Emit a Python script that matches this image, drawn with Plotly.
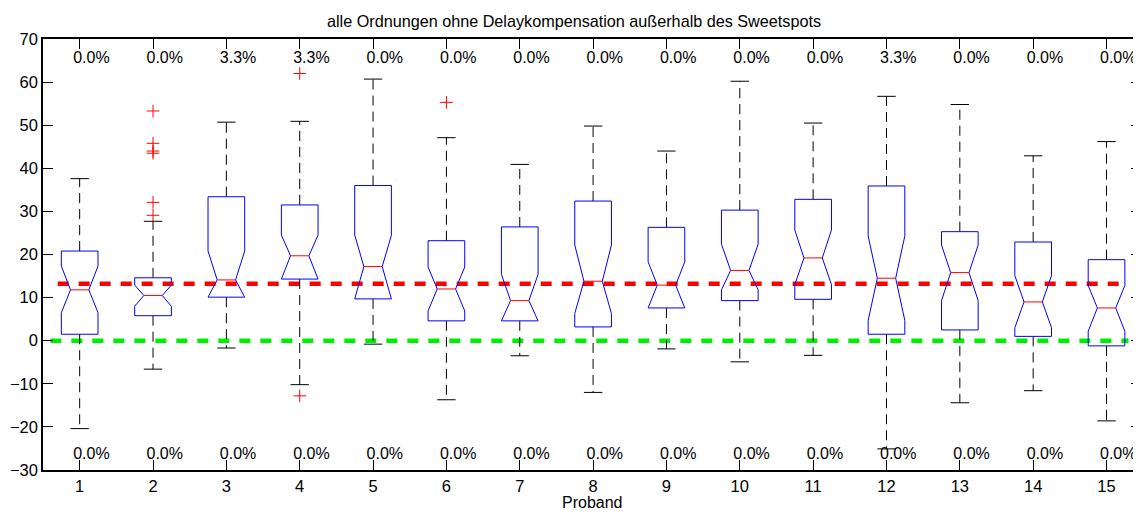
import plotly.graph_objects as go

# ---------------- data ----------------
probands = list(range(1, 16))
q1 = [1.5, 5.8, 10.1, 14.3, 9.7, 4.6, 4.6, 3.2, 7.6, 9.3, 9.6, 1.5, 2.5, 1.0, -1.2]
med = [11.8, 10.5, 14.1, 19.7, 17.2, 12.0, 9.3, 13.8, 12.9, 16.3, 19.2, 14.5, 15.8, 9.0, 7.6]
q3 = [20.8, 14.6, 33.4, 31.5, 36.0, 23.2, 26.4, 32.4, 26.3, 30.3, 32.8, 35.9, 25.3, 22.9, 18.8]
notch_lo = [6.5, 8.0, 10.1, 14.3, 9.7, 6.9, 4.6, 6.3, 7.6, 11.8, 13.0, 4.7, 9.3, 3.0, 2.2]
notch_hi = [17.3, 12.9, 20.8, 24.5, 24.5, 17.1, 15.4, 22.2, 18.3, 22.4, 25.7, 24.3, 22.2, 15.1, 12.8]
whisk_lo = [-20.4, -6.6, -1.7, -10.2, -0.8, -13.7, -3.5, -12.0, -1.9, -4.9, -3.4, -25.1, -14.4, -11.6, -18.6]
whisk_hi = [37.6, 27.7, 50.7, 50.9, 60.7, 47.1, 40.9, 49.8, 44.0, 60.2, 50.5, 56.7, 54.8, 42.9, 46.2]
outlier_x = [2, 2, 2, 2, 2, 2, 4, 4, 6]
outlier_y = [53.3, 45.8, 44.0, 43.5, 32.1, 29.1, 62.0, -12.8, 55.3]
pct_top = ["0.0%", "0.0%", "3.3%", "3.3%", "0.0%", "0.0%", "0.0%", "0.0%", "0.0%",
           "0.0%", "0.0%", "3.3%", "0.0%", "0.0%", "0.0%"]
pct_bottom = ["0.0%"] * 15
overall_median = 13.2
reference_zero = 0.0

# ---------------- style ----------------
W = 0.25      # box half width
WN = 0.125    # notch half width
WC = 0.125    # whisker cap half width
PCT_DX = 0.16
PCT_TOP_Y = 65.4
PCT_BOT_Y = -26.6
FONT = "Liberation Sans, Arial, sans-serif"
FIG_W, FIG_H = 1133, 504   # page body adds an 8px margin

bx, by = [], []
mx, my = [], []
wx, wy = [], []
cx, cy = [], []
for i, p in enumerate(probands):
    bx += [p - W, p - W, p - WN, p - W, p - W, p + W, p + W, p + WN, p + W, p + W, p - W, None]
    by += [q1[i], notch_lo[i], med[i], notch_hi[i], q3[i], q3[i], notch_hi[i], med[i],
           notch_lo[i], q1[i], q1[i], None]
    mx += [p - WN, p + WN, None]
    my += [med[i], med[i], None]
    wx += [p, p, None, p, p, None]
    wy += [q3[i], whisk_hi[i], None, q1[i], whisk_lo[i], None]
    cx += [p - WC, p + WC, None, p - WC, p + WC, None]
    cy += [whisk_hi[i], whisk_hi[i], None, whisk_lo[i], whisk_lo[i], None]

fig = go.Figure()

# reference lines
fig.add_trace(go.Scatter(x=[0.6, 15.3], y=[reference_zero, reference_zero], mode="lines",
                         line=dict(color="#00ee00", width=4.5, dash="11px,10px"),
                         hoverinfo="skip"))
fig.add_trace(go.Scatter(x=[0.7, 15.3], y=[overall_median, overall_median], mode="lines",
                         line=dict(color="#ff0000", width=4.5, dash="11px,10px"),
                         hoverinfo="skip"))

# whiskers
fig.add_trace(go.Scatter(x=wx, y=wy, mode="lines",
                         line=dict(color="black", width=1, dash="10px,6px")))
fig.add_trace(go.Scatter(x=cx, y=cy, mode="lines", line=dict(color="black", width=1)))
# boxes
fig.add_trace(go.Scatter(x=bx, y=by, mode="lines", line=dict(color="#0000ff", width=1)))
# medians
fig.add_trace(go.Scatter(x=mx, y=my, mode="lines", line=dict(color="#ff0000", width=1)))
# outliers
fig.add_trace(go.Scatter(x=outlier_x, y=outlier_y, mode="markers",
                         marker=dict(symbol="cross-thin", size=9,
                                     line=dict(color="#ff0000", width=1))))
# percentages
fig.add_trace(go.Scatter(x=[p + PCT_DX for p in probands], y=[PCT_TOP_Y] * 15,
                         mode="text", text=pct_top,
                         textfont=dict(family=FONT, size=16, color="black")))
fig.add_trace(go.Scatter(x=[p + PCT_DX for p in probands], y=[PCT_BOT_Y] * 15,
                         mode="text", text=pct_bottom,
                         textfont=dict(family=FONT, size=16, color="black")))

fig.add_annotation(text="Proband", xref="paper", yref="paper", x=0.5, y=-32 / 431,
                   xanchor="center", yanchor="middle", showarrow=False,
                   font=dict(family=FONT, size=16, color="black"))

fig.update_layout(
    width=FIG_W, height=FIG_H,
    margin=dict(l=35, r=0, t=31, b=42, autoexpand=False),
    paper_bgcolor="white", plot_bgcolor="white",
    showlegend=False,
    font=dict(family=FONT, size=16, color="black"),
    title=dict(text="alle Ordnungen ohne Delaykompensation außerhalb des Sweetspots",
               x=566 / FIG_W, xanchor="center", xref="container",
               y=1 - 13 / FIG_H, yanchor="middle", yref="container",
               font=dict(family=FONT, size=16.2, color="black")),
    xaxis=dict(range=[0.5, 15.47], tickmode="array", tickvals=probands,
               ticktext=[str(p) for p in probands], automargin=False,
               ticks="inside", ticklen=10, tickcolor="black", tickwidth=1,
               showline=True, linecolor="black", linewidth=1.5, mirror="ticks",
               showgrid=False, zeroline=False,
               tickfont=dict(family=FONT, size=16.5, color="black")),
    yaxis=dict(range=[-30, 70], tickmode="linear", tick0=-30, dtick=10, automargin=False,
               ticks="inside", ticklen=10, tickcolor="black", tickwidth=1,
               showline=True, linecolor="black", linewidth=1.5, mirror="ticks",
               showgrid=False, zeroline=False,
               tickfont=dict(family=FONT, size=16.5, color="black")),
)

fig.write_html("out.html")
